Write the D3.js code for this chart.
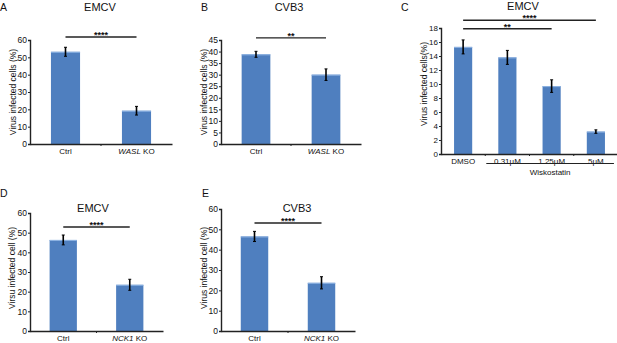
<!DOCTYPE html>
<html><head><meta charset="utf-8">
<script src="https://cdn.jsdelivr.net/npm/d3@7"></script>
<style>
body{margin:0;background:#fff;}
text{font-family:"Liberation Sans",Arial,sans-serif;fill:#111;}
</style></head>
<body><svg id="c" width="617" height="343"></svg>
<script>
// ---- data ----
const catsA = ["Ctrl", "WASL KO"];
const valsA = [53.2, 19.2];
const errA = [2.6, 2.5];
const ticksA = [0,10,20,30,40,50,60];

const catsB = ["Ctrl", "WASL KO"];
const valsB = [38.8, 30.0];
const errB = [1.3, 2.5];
const ticksB = [0,5,10,15,20,25,30,35,40,45];

const catsC = ["DMSO", "0.31μM", "1.25μM", "5μM"];
const valsC = [15.3, 13.8, 9.7, 3.2];
const errC = [1.0, 1.0, 0.9, 0.25];
const ticksC = [0,2,4,6,8,10,12,14,16,18];

const catsD = ["Ctrl", "NCK1 KO"];
const valsD = [46.3, 23.5];
const errD = [2.5, 2.8];
const ticksD = [0,10,20,30,40,50,60];

const catsE = ["Ctrl", "NCK1 KO"];
const valsE = [46.5, 23.7];
const errE = [2.5, 3.0];
const ticksE = [0,10,20,30,40,50,60];

// significance: [fromIndex, toIndex, level(in y units), label]
const sigA = [[0,1,61.7,"****"]];
const sigB = [[0,1,45.9,"**"]];
const sigC = [[0,3,19.1,"****"],[0,2,17.9,"**"]];
const sigD = [[0,1,52.9,"****"]];
const sigE = [[0,1,53.1,"****"]];

const svg = d3.select("#c");
const barColor = "#4f7fbf";

function panel(o){
  const g = svg.append("g");
  const x = d3.scaleBand().domain(o.cats).range([o.x0,o.x1]).paddingInner(0.59).paddingOuter(0.295);
  const y = d3.scaleLinear().domain([0,o.ymax]).range([o.yb,o.yt]);
  g.selectAll("rect.bar").data(o.vals).enter().append("rect")
    .attr("x",(d,i)=>x(o.cats[i])).attr("width",x.bandwidth())
    .attr("y",d=>y(d)).attr("height",d=>y(0)-y(d)).attr("fill",barColor);
  g.selectAll("rect.top").data(o.vals).enter().append("rect")
    .attr("x",(d,i)=>x(o.cats[i])).attr("width",x.bandwidth())
    .attr("y",d=>y(d)).attr("height",1).attr("fill","#8fb4e3");
  o.vals.forEach((v,i)=>{
    const cx = x(o.cats[i])+x.bandwidth()/2;
    g.append("line").attr("x1",cx).attr("x2",cx).attr("y1",y(v-o.err[i])).attr("y2",y(v+o.err[i]))
      .attr("stroke","#000").attr("stroke-width",1.6);
    [v-o.err[i],v+o.err[i]].forEach(e=>g.append("line").attr("x1",cx-1.5).attr("x2",cx+1.5)
      .attr("y1",y(e)).attr("y2",y(e)).attr("stroke","#000").attr("stroke-width",1));
  });
  const ya = d3.axisLeft(y).tickValues(o.ticks).tickSize(2).tickPadding(1);
  const yg = g.append("g").attr("transform",`translate(${o.x0},0)`).call(ya);
  yg.select(".domain").attr("stroke","#222").attr("stroke-width",1.4);
  yg.selectAll(".tick line").attr("stroke","#222");
  yg.selectAll("text").style("font-size",o.tickFont||"8.5px").attr("fill","#222");
  const xa = d3.axisBottom(x).tickSize(0).tickPadding(4);
  const xg = g.append("g").attr("transform",`translate(0,${o.yb})`).call(xa);
  xg.select(".domain").attr("stroke","#222").attr("stroke-width",1.6);
  xg.selectAll("text").style("font-size","8px").attr("fill","#222").attr("dy","0.7em");
  if(o.italic){
    xg.selectAll(".tick text").each(function(d){
      const t=d3.select(this); const parts=d.split(" ");
      if(parts.length>1){
        t.text(null);
        t.append("tspan").style("font-style","italic").text(parts[0]);
        t.append("tspan").text(" "+parts.slice(1).join(" "));
      }
    });
  }
  for(let i=1;i<o.cats.length;i++){
    const sx = x(o.cats[i]) - x.step()*x.paddingInner()/2;
    g.append("line").attr("x1",sx).attr("x2",sx).attr("y1",o.yb).attr("y2",o.yb+2).attr("stroke","#222").attr("stroke-width",1);
  }
  o.sig.forEach(s=>{
    const xa1 = x(o.cats[s[0]])+x.bandwidth()/2, xa2 = x(o.cats[s[1]])+x.bandwidth()/2;
    g.append("line").attr("x1",xa1).attr("x2",xa2).attr("y1",y(s[2])).attr("y2",y(s[2]))
      .attr("stroke","#222").attr("stroke-width",1.4);
    g.append("text").attr("x",(xa1+xa2)/2).attr("y",y(s[2])+0.8).attr("text-anchor","middle")
      .style("font-size","9px").style("font-weight","bold").text(s[3]);
  });
  g.append("text").attr("x",o.tx).attr("y",o.ty).attr("text-anchor","middle").style("font-size","11px").text(o.title);
  g.append("text").attr("x",o.lx).attr("y",o.ly).style("font-size","10.5px").text(o.letter);
  g.append("text").attr("transform",`translate(${o.ylx},${o.yly}) rotate(-90)`).attr("text-anchor","middle")
    .attr("dy","0.35em").style("font-size","8.5px").text(o.ylabel);
  return {g,x,y};
}

panel({cats:catsA,vals:valsA,err:errA,ticks:ticksA,sig:sigA,ymax:60,x0:30,x1:172,yt:40,yb:144,
  title:"EMCV",tx:100,ty:11,letter:"A",lx:0,ly:11,ylabel:"Virus infected cells (%)",ylx:13,yly:92,italic:true});
panel({cats:catsB,vals:valsB,err:errB,ticks:ticksB,sig:sigB,ymax:45,x0:221,x1:361,yt:40,yb:144,
  title:"CVB3",tx:289,ty:11,letter:"B",lx:201,ly:11,ylabel:"Virus infected cells (%)",ylx:204,yly:92,italic:true});
const pc = panel({cats:catsC,vals:valsC,err:errC,ticks:ticksC,sig:sigC,ymax:18,x0:441,x1:618,yt:28,yb:154,
  title:"EMCV",tx:523,ty:10,letter:"C",lx:401,ly:11,ylabel:"Virus infected cells(%)",ylx:424,yly:84,italic:false,tickFont:"8px"});
{
  const x = pc.x;
  const a = x("0.31μM") - 12, b = x("5μM")+x.bandwidth()+9;
  pc.g.append("line").attr("x1",a).attr("x2",b).attr("y1",163.5).attr("y2",163.5).attr("stroke","#222").attr("stroke-width",1);
  pc.g.append("text").attr("x",(a+b)/2).attr("y",174.5).attr("text-anchor","middle").style("font-size","8px").text("Wiskostatin");
}
panel({cats:catsD,vals:valsD,err:errD,ticks:ticksD,sig:sigD,ymax:60,x0:30,x1:163,yt:213,yb:331,
  title:"EMCV",tx:93,ty:212,letter:"D",lx:0,ly:197,ylabel:"Virsu infected cell (%)",ylx:12,yly:268,italic:true});
panel({cats:catsE,vals:valsE,err:errE,ticks:ticksE,sig:sigE,ymax:60,x0:221,x1:355,yt:209,yb:331,
  title:"CVB3",tx:297,ty:212,letter:"E",lx:202,ly:197,ylabel:"Virus infected cell (%)",ylx:204,yly:268,italic:true});
</script></body></html>
